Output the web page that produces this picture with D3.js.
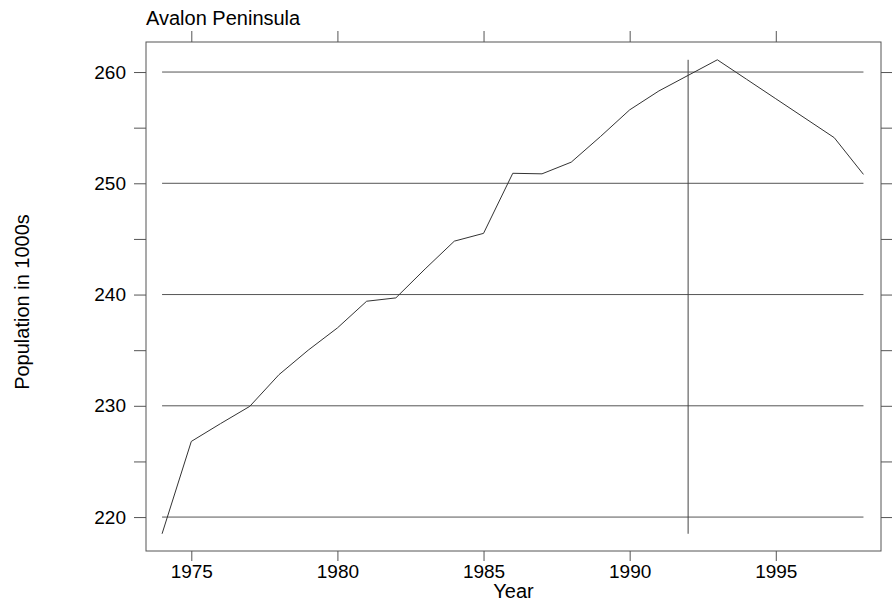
<!DOCTYPE html>
<html>
<head>
<meta charset="utf-8">
<script src="https://cdn.jsdelivr.net/npm/d3@7/dist/d3.min.js"></script>
<style>
  body { margin: 0; background: #fff; }
  svg { display: block; font-family: "Liberation Sans", Arial, Helvetica, sans-serif; }
</style>
</head>
<body>
<svg id="chart" width="892" height="603"></svg>
<script>
const years = [1974,1975,1976,1977,1978,1979,1980,1981,1982,1983,1984,1985,1986,1987,1988,1989,1990,1991,1992,1993,1994,1995,1996,1997,1998];
const population = [218.5,226.8,228.4,229.95,232.8,235.0,237.0,239.4,239.7,242.3,244.8,245.5,250.9,250.85,251.9,254.2,256.6,258.3,259.7,261.1,259.35,257.6,255.85,254.1,250.8];
const markerYear = 1992;
const xTicks = [1975,1980,1985,1990,1995];
const yTicks = [220,225,230,235,240,245,250,255,260];
const yLabels = [220,230,240,250,260];
const gridValues = [220,230,240,250,260];
const chartTitle = "Avalon Peninsula";
const xTitle = "Year";
const yTitle = "Population in 1000s";

(function () {
  const svg = d3.select("#chart");
  const L = 146, R = 881, T = 42, B = 551;
  const x = d3.scaleLinear().domain([1973.45, 1998.6]).range([L, R]);
  const y = d3.scaleLinear().domain([216.95, 262.7]).range([B, T]);
  const gray = "#555";

  // gridlines
  svg.append("g").selectAll("line").data(gridValues).join("line")
    .attr("x1", x(d3.min(years))).attr("x2", x(d3.max(years)))
    .attr("y1", d => y(d)).attr("y2", d => y(d))
    .attr("stroke", gray).attr("stroke-width", 1);

  // frame
  svg.append("rect").attr("x", L).attr("y", T).attr("width", R - L).attr("height", B - T)
    .attr("fill", "none").attr("stroke", gray).attr("stroke-width", 1);

  // axes
  const fmt = d3.format("d");
  const gBottom = svg.append("g").attr("transform", `translate(0,${B})`)
    .call(d3.axisBottom(x).tickValues(xTicks).tickFormat(fmt).tickSize(10).tickPadding(4));
  const gTop = svg.append("g").attr("transform", `translate(0,${T})`)
    .call(d3.axisTop(x).tickValues(xTicks).tickFormat("").tickSize(11));
  const gLeft = svg.append("g").attr("transform", `translate(${L},0)`)
    .call(d3.axisLeft(y).tickValues(yTicks).tickFormat(d => yLabels.includes(d) ? fmt(d) : "").tickSize(12).tickPadding(8));
  const gRight = svg.append("g").attr("transform", `translate(${R},0)`)
    .call(d3.axisRight(y).tickValues(yTicks).tickFormat("").tickSize(11));

  [gBottom, gTop, gLeft, gRight].forEach(g => {
    g.select(".domain").remove();
    g.selectAll(".tick line").attr("stroke", gray);
    g.selectAll(".tick text").attr("fill", "#000").style("font-size", "19px")
      .style("font-family", '"Liberation Sans", Arial, sans-serif');
  });

  // vertical marker line
  svg.append("line")
    .attr("x1", x(markerYear)).attr("x2", x(markerYear))
    .attr("y1", y(d3.min(population))).attr("y2", y(d3.max(population)))
    .attr("stroke", "#444").attr("stroke-width", 1);

  // data line
  const line = d3.line().x((d, i) => x(years[i])).y(d => y(d));
  svg.append("path").datum(population)
    .attr("d", line).attr("fill", "none").attr("stroke", "#333").attr("stroke-width", 1);

  // titles
  svg.append("text").attr("x", L).attr("y", 25).text(chartTitle)
    .style("font-size", "20px").attr("fill", "#000");
  svg.append("text").attr("x", (L + R) / 2).attr("y", 598).attr("text-anchor", "middle")
    .text(xTitle).style("font-size", "20px").attr("fill", "#000");
  svg.append("text").attr("transform", "translate(29,302) rotate(-90)").attr("text-anchor", "middle")
    .text(yTitle).style("font-size", "20px").attr("fill", "#000");
})();
</script>
</body>
</html>
